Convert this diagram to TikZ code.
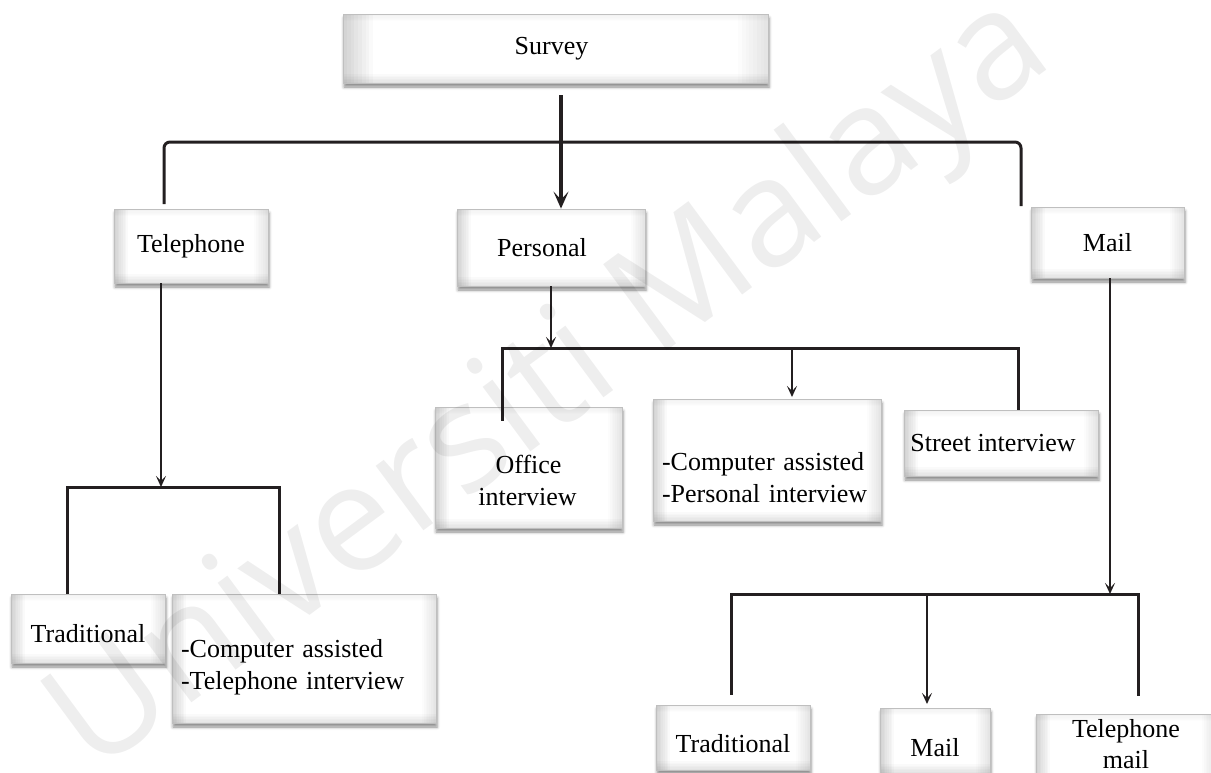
\documentclass[tikz,border=0pt]{standalone}
\usepackage{fontspec}
\setmainfont{Liberation Serif}
\newfontfamily\wmfont{Open Sans}
\usetikzlibrary{arrows.meta,shadows.blur,calc}
\definecolor{linec}{RGB}{35,31,32}
\newcommand\firstlineheight[1]{\rule{0pt}{#1}}
\newcommand\lastlinedepth[1]{\rule[-#1]{0pt}{#1}}

\begin{document}
\begin{tikzpicture}[x=1pt,y=-1pt,
  % soft bevelled edges, built from thin strips of fading grey
  bevel/.style={path picture={
    \coordinate (bbsw) at (path picture bounding box.south west);
    \coordinate (bbne) at (path picture bounding box.north east);
    \foreach \i [evaluate=\i as \op using 0.17*(1-\i/8)] in {0,...,7}{
      \fill[black, opacity=\op] ([xshift=\i*#1/8]bbsw) rectangle ([xshift=\i*#1/8+#1/8]bbsw |- bbne);
      \fill[black, opacity=0.6*\op] ([xshift=-\i*#1/8]bbne) rectangle ([xshift=-\i*#1/8-#1/8]bbne |- bbsw);
    }
    \foreach \i [evaluate=\i as \op using 0.11*(1-\i/6)] in {0,...,5}{
      \fill[black, opacity=\op] ([yshift=\i*1.5pt]bbsw) rectangle ([yshift=\i*1.5pt+1.5pt]bbne |- bbsw);
      \fill[black, opacity=0.5*\op] ([yshift=-\i*1.2pt]bbsw |- bbne) rectangle ([yshift=-\i*1.2pt-1.2pt]bbne);
    }
  }},
  box/.style={draw=black!25, line width=0.8pt, fill=white, bevel=14pt,
    blur shadow={shadow xshift=1pt, shadow yshift=-4pt, shadow blur radius=3pt, shadow opacity=45},
    inner sep=0pt, align=center, font=\fontsize{26}{31.5}\selectfont},
  leftbox/.style={box, align=left},
  conn/.style={draw=linec, line width=1.9pt},
  barline/.style={draw=linec, line width=3pt},
  arr/.style={-{Stealth[length=11pt,width=10pt,inset=5pt]}},
  mainarr/.style={draw=linec, line width=3.4pt, -{Stealth[length=17pt,width=15pt,inset=8pt]}},
  wm/.style={font=\wmfont\fontsize{150}{150}\selectfont, text=black, text opacity=0.065}
]
\useasboundingbox (0,0) rectangle (1211,772);
\clip (0,0) rectangle (1211,772);

% first level
\node[box, bevel=30pt, minimum width=425pt, minimum height=69pt] (survey) at (555.5,48.5) {Survey\hspace*{8pt}};
\node[box, minimum width=154pt, minimum height=74pt] (tel) at (191,246) {Telephone};
\node[box, minimum width=188pt, minimum height=77pt] (pers) at (551,247.5) {Personal\hspace*{18pt}};
\node[box, minimum width=153pt, minimum height=71pt] (mail) at (1107.5,242.5) {Mail};

% telephone methods
\node[box, minimum width=154pt, minimum height=69pt] (trad1) at (88,628.5) {\firstlineheight{29pt}Traditional};
\node[leftbox, text width=246pt, minimum width=264pt, minimum height=129pt] (cat) at (304,658.5)
  {\firstlineheight{36pt}-Computer assisted\\-Telephone interview};

% personal methods
\node[box, minimum width=187pt, minimum height=121pt] (office) at (528.5,467.5)
  {\firstlineheight{44pt}Office\\interview\hspace*{2pt}};
\node[leftbox, text width=210pt, minimum width=228pt, minimum height=122pt] (cap) at (767,460)
  {\firstlineheight{53pt}-Computer assisted\\-Personal interview};
\node[box, minimum width=194pt, minimum height=66pt] (street) at (1001,443) {Street interview\hspace*{16pt}};

% mail methods
\node[box, minimum width=154pt, minimum height=65pt] (trad2) at (733,737.5) {\firstlineheight{30pt}Traditional};
\node[box, minimum width=110pt, minimum height=65pt] (mail2) at (935,740.5) {\firstlineheight{32pt}Mail};
\node[box, minimum width=180pt, minimum height=90pt] (telmail) at (1126,759)
  {Telephone\\mail\lastlinedepth{30pt}};

% free ends of the connectors
\coordinate (sArr) at (561,95);
\coordinate (tTop) at (164,204);
\coordinate (mBar) at (1021,142);
\coordinate (mTop) at (1021,206);
\coordinate (tJ) at (161,487);
\coordinate (pJ) at (551,348);
\coordinate (capIn) at (792,397);
\coordinate (mJ) at (1110,594);
\coordinate (m2In) at (927,704);

% survey level
\draw[mainarr] (sArr) -- (sArr |- pers.north);
\draw[barline, rounded corners=6pt] (tTop) |- (mBar) -- (mTop);

% telephone branch
\draw[conn, arr] ([xshift=-30pt]tel.south) -- (tJ);
\draw[barline] ([xshift=-21pt]trad1.north) |- (tJ) -| ([xshift=-25pt]cat.north);

% personal branch
\draw[conn, arr] (pers.south) -- (pJ);
\draw[barline] ([xshift=-26.5pt,yshift=-14pt]office.north) |- (pJ) -| ([xshift=17pt]street.north);
\draw[conn, arr] (capIn |- pJ) -- (capIn);

% mail branch
\draw[conn, arr] ([xshift=2.5pt]mail.south) -- (mJ);
\draw[barline] ([xshift=-2pt,yshift=10pt]trad2.north) |- (mJ) -| ([xshift=12pt,yshift=18pt]telmail.north);
\draw[conn, arr] (m2In |- mJ) -- (m2In);

% watermark across the sheet
\node[wm, rotate=36.5] (wmark) at (552,388) {Universiti Malaya};
\end{tikzpicture}
\end{document}
